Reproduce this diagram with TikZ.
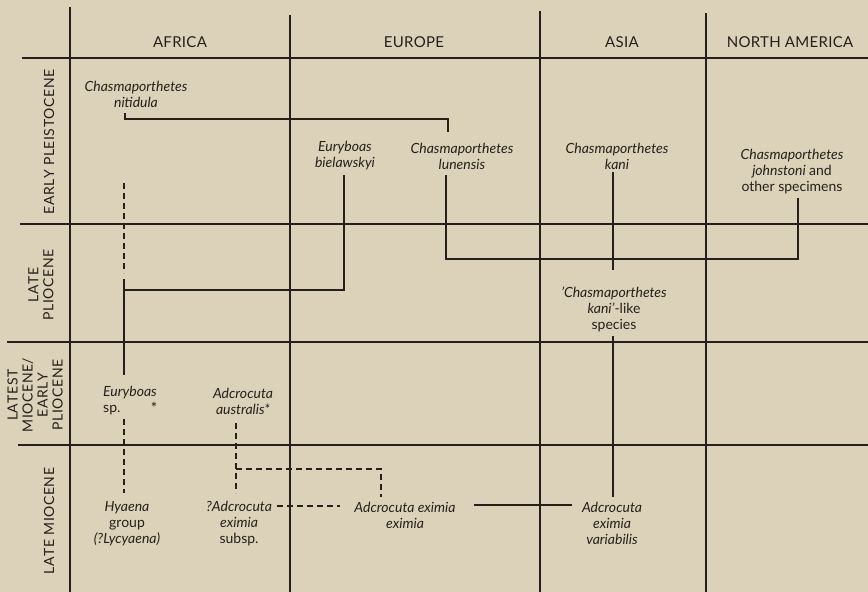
\documentclass[tikz,border=0pt]{standalone}
\usepackage{fontspec}
\setmainfont{Lato}
\definecolor{paper}{RGB}{219,210,185}
\definecolor{ink}{RGB}{38,31,28}
\begin{document}
\begin{tikzpicture}[x=1pt,y=-1pt,
  rule/.style={ink,line width=1.3pt},
  link/.style={ink,line width=1.2pt},
  dlink/.style={ink,line width=1.2pt,dash pattern=on 6pt off 4pt},
  colhead/.style={text=ink,font=\fontsize{15}{16}\selectfont\addfontfeatures{LetterSpace=2}},
  rowhead/.style={text=ink,rotate=90,align=center,inner sep=0pt,
    font=\fontsize{14}{15}\selectfont\addfontfeatures{LetterSpace=4,Kerning=Off}},
  taxon/.style={text=ink,align=center,inner sep=0pt,font=\fontsize{14}{16}\selectfont\itshape}]
% paper
\fill[paper] (0,0) rectangle (868,592);
\useasboundingbox (0,0) rectangle (868,592);

% table grid
\draw[rule] (70,7) -- (70,592);
\draw[rule] (290,15) -- (290,592);
\draw[rule] (540,11) -- (540,592);
\draw[rule] (706,13) -- (706,592);
\draw[rule] (22,58) -- (868,58);
\draw[rule] (20,224) -- (868,224);
\draw[rule] (7,342) -- (868,342);
\draw[rule] (18,445) -- (868,445);

% column headings
\node[colhead] (hAf) at (180,42) {AFRICA};
\node[colhead] (hEu) at (414,42) {EUROPE};
\node[colhead] (hAs) at (622,42) {ASIA};
\node[colhead] (hNA) at (790,42) {NORTH AMERICA};

% row headings
\node[rowhead] (rEP) at (49,142) {EARLY PLEISTOCENE};
\node[rowhead] (rLP) at (41,285) {LATE\\PLIOCENE};
\node[rowhead] (rLE) at (35,395) {LATEST\\MIOCENE/\\EARLY\\PLIOCENE};
\node[rowhead] (rLM) at (49,521) {LATE MIOCENE};

% taxa
\node[taxon] (nit) at (136,94) {Chasmaporthetes\\nitidula};
\node[taxon] (bie) at (345,156) {Euryboas\\bielawskyi};
\node[taxon] (lun) at (462,156) {Chasmaporthetes\\lunensis};
\node[taxon] (kan) at (617,156) {Chasmaporthetes\\kani};
\node[taxon] (joh) at (792,172) {Chasmaporthetes\\johnstoni \upshape and\\\upshape other specimens};
\node[taxon] (kli) at (614,309) {'Chasmaporthetes\\kani'\upshape-like\\\upshape species};
\node[taxon,align=left] (eur) at (130,401) {Euryboas\\\upshape sp.};
\node[text=ink,inner sep=0pt,font=\fontsize{15}{16}\selectfont] (ast) at (154,408) {*};
\node[taxon] (aus) at (243,401) {Adcrocuta\\australis*};
\node[taxon] (hya) at (127,524) {Hyaena\\\upshape group\\(?Lycyaena)};
\node[taxon] (adc) at (239,524) {?Adcrocuta\\eximia\\\upshape subsp.};
\node[taxon] (axe) at (405,515) {Adcrocuta eximia\\eximia};
\node[taxon] (var) at (612,523) {Adcrocuta\\eximia\\variabilis};

% connector end points
\coordinate (nitF) at (125,113);
\coordinate (lunH) at (448,132);
\coordinate (bieF) at (344,175);
\coordinate (eurJ) at (124,290);
\coordinate (eurT) at (124,279);
\coordinate (eurB) at (124,375);
\coordinate (dashT) at (124,183);
\coordinate (dashB) at (124,273);
\coordinate (lunF) at (446,175);
\coordinate (johF) at (798,198);
\coordinate (kanF) at (613,172);
\coordinate (kliT) at (613,270);
\coordinate (kliB) at (613,336);
\coordinate (varT) at (613,497);
\coordinate (eurD) at (124,419);
\coordinate (hyaT) at (124,493);
\coordinate (ausD) at (236,423);
\coordinate (adcT) at (236,493);
\coordinate (ausJ) at (236,469);
\coordinate (axeT) at (381,497);
\coordinate (adcR) at (277,506);
\coordinate (axeL) at (340,506);
\coordinate (axeR) at (474,505);
\coordinate (varL) at (572,505);

% connectors
\draw[link] (nitF) -- ++(0,6) -| (lunH);
\draw[link] (bieF) |- (eurJ);
\draw[link] (eurT) -- (eurB);
\draw[dlink] (dashT) -- (dashB);
\draw[link] (lunF) |- (798,259) -- (johF);
\draw[link] (kanF) -- (kliT);
\draw[link] (kliB) -- (varT);
\draw[dlink] (eurD) -- (hyaT);
\draw[dlink] (ausD) -- (adcT);
\draw[dlink] (ausJ) -| (axeT);
\draw[dlink] (adcR) -- (axeL);
\draw[link] (axeR) -- (varL);
\end{tikzpicture}
\end{document}
